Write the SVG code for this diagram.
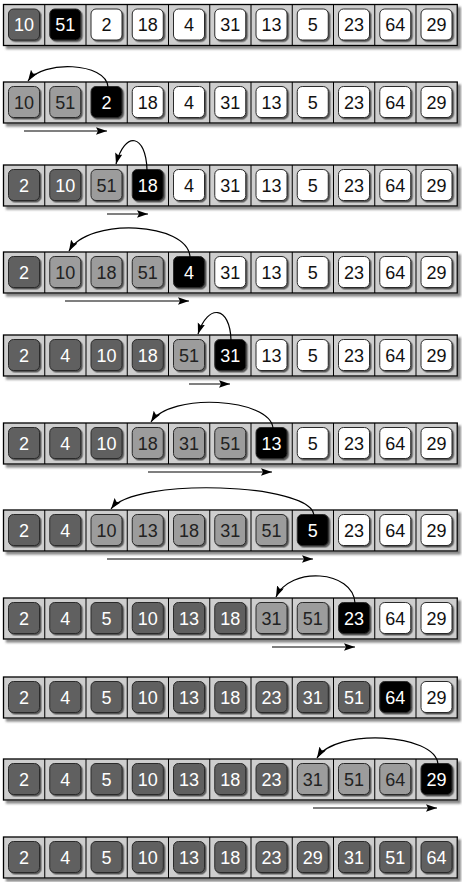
<svg xmlns="http://www.w3.org/2000/svg" width="462" height="882" viewBox="0 0 462 882">
<defs>
<filter id="fs" x="-5%" y="-20%" width="110%" height="150%"><feDropShadow dx="3" dy="3" stdDeviation="1" flood-color="#555" flood-opacity="0.7"/></filter>
<filter id="bs" x="-20%" y="-20%" width="150%" height="150%"><feDropShadow dx="1.5" dy="1.5" stdDeviation="0.7" flood-color="#222" flood-opacity="0.7"/></filter>
<marker id="ah" markerUnits="userSpaceOnUse" markerWidth="12" markerHeight="8" refX="11" refY="3.75" orient="auto"><path d="M0,0 L11,3.75 L0,7.5 L2,3.75 z" fill="#000"/></marker>
</defs>
<style>
.frame{fill:#cecece;stroke:#000;stroke-width:1.3;filter:url(#fs)}
.div{stroke:#000;stroke-width:1;fill:none}
.box{stroke:#2a2a2a;stroke-width:1;filter:url(#bs)}
.D .box{fill:#606060}.M .box{fill:#9c9c9c}.B .box{fill:#000}.W .box{fill:#fff}
text{font-family:"Liberation Sans",Arial,sans-serif;font-size:18px;text-anchor:middle}
.D text,.B text{fill:#fff}.M text{fill:#222}.W text{fill:#111}
.cn path{fill:none;stroke:#000;stroke-width:1.2;marker-end:url(#ah)}
</style>

<g id="row1" transform="translate(0,4.5)">
<rect class="frame" x="3.5" y="0" width="453.75" height="41"/>
<path class="div" d="M44.75,0V41M86,0V41M127.25,0V41M168.5,0V41M209.75,0V41M251,0V41M292.25,0V41M333.5,0V41M374.75,0V41M416,0V41"/>
<g id="r1c1" class="D" transform="translate(3.5,0)"><rect class="box" x="5" y="4.5" width="31" height="31" rx="5"/><text x="20.5" y="26.5">10</text></g>
<g id="r1c2" class="B" transform="translate(44.75,0)"><rect class="box" x="5" y="4.5" width="31" height="31" rx="5"/><text x="20.5" y="26.5">51</text></g>
<g id="r1c3" class="W" transform="translate(86,0)"><rect class="box" x="5" y="4.5" width="31" height="31" rx="5"/><text x="20.5" y="26.5">2</text></g>
<g id="r1c4" class="W" transform="translate(127.25,0)"><rect class="box" x="5" y="4.5" width="31" height="31" rx="5"/><text x="20.5" y="26.5">18</text></g>
<g id="r1c5" class="W" transform="translate(168.5,0)"><rect class="box" x="5" y="4.5" width="31" height="31" rx="5"/><text x="20.5" y="26.5">4</text></g>
<g id="r1c6" class="W" transform="translate(209.75,0)"><rect class="box" x="5" y="4.5" width="31" height="31" rx="5"/><text x="20.5" y="26.5">31</text></g>
<g id="r1c7" class="W" transform="translate(251,0)"><rect class="box" x="5" y="4.5" width="31" height="31" rx="5"/><text x="20.5" y="26.5">13</text></g>
<g id="r1c8" class="W" transform="translate(292.25,0)"><rect class="box" x="5" y="4.5" width="31" height="31" rx="5"/><text x="20.5" y="26.5">5</text></g>
<g id="r1c9" class="W" transform="translate(333.5,0)"><rect class="box" x="5" y="4.5" width="31" height="31" rx="5"/><text x="20.5" y="26.5">23</text></g>
<g id="r1c10" class="W" transform="translate(374.75,0)"><rect class="box" x="5" y="4.5" width="31" height="31" rx="5"/><text x="20.5" y="26.5">64</text></g>
<g id="r1c11" class="W" transform="translate(416,0)"><rect class="box" x="5" y="4.5" width="31" height="31" rx="5"/><text x="20.5" y="26.5">29</text></g>
</g>

<g id="row2" transform="translate(0,82)">
<rect class="frame" x="3.5" y="0" width="453.75" height="41"/>
<path class="div" d="M44.75,0V41M86,0V41M127.25,0V41M168.5,0V41M209.75,0V41M251,0V41M292.25,0V41M333.5,0V41M374.75,0V41M416,0V41"/>
<g id="r2c1" class="M" transform="translate(3.5,0)"><rect class="box" x="5" y="4.5" width="31" height="31" rx="5"/><text x="20.5" y="26.5">10</text></g>
<g id="r2c2" class="M" transform="translate(44.75,0)"><rect class="box" x="5" y="4.5" width="31" height="31" rx="5"/><text x="20.5" y="26.5">51</text></g>
<g id="r2c3" class="B" transform="translate(86,0)"><rect class="box" x="5" y="4.5" width="31" height="31" rx="5"/><text x="20.5" y="26.5">2</text></g>
<g id="r2c4" class="W" transform="translate(127.25,0)"><rect class="box" x="5" y="4.5" width="31" height="31" rx="5"/><text x="20.5" y="26.5">18</text></g>
<g id="r2c5" class="W" transform="translate(168.5,0)"><rect class="box" x="5" y="4.5" width="31" height="31" rx="5"/><text x="20.5" y="26.5">4</text></g>
<g id="r2c6" class="W" transform="translate(209.75,0)"><rect class="box" x="5" y="4.5" width="31" height="31" rx="5"/><text x="20.5" y="26.5">31</text></g>
<g id="r2c7" class="W" transform="translate(251,0)"><rect class="box" x="5" y="4.5" width="31" height="31" rx="5"/><text x="20.5" y="26.5">13</text></g>
<g id="r2c8" class="W" transform="translate(292.25,0)"><rect class="box" x="5" y="4.5" width="31" height="31" rx="5"/><text x="20.5" y="26.5">5</text></g>
<g id="r2c9" class="W" transform="translate(333.5,0)"><rect class="box" x="5" y="4.5" width="31" height="31" rx="5"/><text x="20.5" y="26.5">23</text></g>
<g id="r2c10" class="W" transform="translate(374.75,0)"><rect class="box" x="5" y="4.5" width="31" height="31" rx="5"/><text x="20.5" y="26.5">64</text></g>
<g id="r2c11" class="W" transform="translate(416,0)"><rect class="box" x="5" y="4.5" width="31" height="31" rx="5"/><text x="20.5" y="26.5">29</text></g>
</g>

<g id="row3" transform="translate(0,165)">
<rect class="frame" x="3.5" y="0" width="453.75" height="41"/>
<path class="div" d="M44.75,0V41M86,0V41M127.25,0V41M168.5,0V41M209.75,0V41M251,0V41M292.25,0V41M333.5,0V41M374.75,0V41M416,0V41"/>
<g id="r3c1" class="D" transform="translate(3.5,0)"><rect class="box" x="5" y="4.5" width="31" height="31" rx="5"/><text x="20.5" y="26.5">2</text></g>
<g id="r3c2" class="D" transform="translate(44.75,0)"><rect class="box" x="5" y="4.5" width="31" height="31" rx="5"/><text x="20.5" y="26.5">10</text></g>
<g id="r3c3" class="M" transform="translate(86,0)"><rect class="box" x="5" y="4.5" width="31" height="31" rx="5"/><text x="20.5" y="26.5">51</text></g>
<g id="r3c4" class="B" transform="translate(127.25,0)"><rect class="box" x="5" y="4.5" width="31" height="31" rx="5"/><text x="20.5" y="26.5">18</text></g>
<g id="r3c5" class="W" transform="translate(168.5,0)"><rect class="box" x="5" y="4.5" width="31" height="31" rx="5"/><text x="20.5" y="26.5">4</text></g>
<g id="r3c6" class="W" transform="translate(209.75,0)"><rect class="box" x="5" y="4.5" width="31" height="31" rx="5"/><text x="20.5" y="26.5">31</text></g>
<g id="r3c7" class="W" transform="translate(251,0)"><rect class="box" x="5" y="4.5" width="31" height="31" rx="5"/><text x="20.5" y="26.5">13</text></g>
<g id="r3c8" class="W" transform="translate(292.25,0)"><rect class="box" x="5" y="4.5" width="31" height="31" rx="5"/><text x="20.5" y="26.5">5</text></g>
<g id="r3c9" class="W" transform="translate(333.5,0)"><rect class="box" x="5" y="4.5" width="31" height="31" rx="5"/><text x="20.5" y="26.5">23</text></g>
<g id="r3c10" class="W" transform="translate(374.75,0)"><rect class="box" x="5" y="4.5" width="31" height="31" rx="5"/><text x="20.5" y="26.5">64</text></g>
<g id="r3c11" class="W" transform="translate(416,0)"><rect class="box" x="5" y="4.5" width="31" height="31" rx="5"/><text x="20.5" y="26.5">29</text></g>
</g>

<g id="row4" transform="translate(0,252)">
<rect class="frame" x="3.5" y="0" width="453.75" height="41"/>
<path class="div" d="M44.75,0V41M86,0V41M127.25,0V41M168.5,0V41M209.75,0V41M251,0V41M292.25,0V41M333.5,0V41M374.75,0V41M416,0V41"/>
<g id="r4c1" class="D" transform="translate(3.5,0)"><rect class="box" x="5" y="4.5" width="31" height="31" rx="5"/><text x="20.5" y="26.5">2</text></g>
<g id="r4c2" class="M" transform="translate(44.75,0)"><rect class="box" x="5" y="4.5" width="31" height="31" rx="5"/><text x="20.5" y="26.5">10</text></g>
<g id="r4c3" class="M" transform="translate(86,0)"><rect class="box" x="5" y="4.5" width="31" height="31" rx="5"/><text x="20.5" y="26.5">18</text></g>
<g id="r4c4" class="M" transform="translate(127.25,0)"><rect class="box" x="5" y="4.5" width="31" height="31" rx="5"/><text x="20.5" y="26.5">51</text></g>
<g id="r4c5" class="B" transform="translate(168.5,0)"><rect class="box" x="5" y="4.5" width="31" height="31" rx="5"/><text x="20.5" y="26.5">4</text></g>
<g id="r4c6" class="W" transform="translate(209.75,0)"><rect class="box" x="5" y="4.5" width="31" height="31" rx="5"/><text x="20.5" y="26.5">31</text></g>
<g id="r4c7" class="W" transform="translate(251,0)"><rect class="box" x="5" y="4.5" width="31" height="31" rx="5"/><text x="20.5" y="26.5">13</text></g>
<g id="r4c8" class="W" transform="translate(292.25,0)"><rect class="box" x="5" y="4.5" width="31" height="31" rx="5"/><text x="20.5" y="26.5">5</text></g>
<g id="r4c9" class="W" transform="translate(333.5,0)"><rect class="box" x="5" y="4.5" width="31" height="31" rx="5"/><text x="20.5" y="26.5">23</text></g>
<g id="r4c10" class="W" transform="translate(374.75,0)"><rect class="box" x="5" y="4.5" width="31" height="31" rx="5"/><text x="20.5" y="26.5">64</text></g>
<g id="r4c11" class="W" transform="translate(416,0)"><rect class="box" x="5" y="4.5" width="31" height="31" rx="5"/><text x="20.5" y="26.5">29</text></g>
</g>

<g id="row5" transform="translate(0,335)">
<rect class="frame" x="3.5" y="0" width="453.75" height="41"/>
<path class="div" d="M44.75,0V41M86,0V41M127.25,0V41M168.5,0V41M209.75,0V41M251,0V41M292.25,0V41M333.5,0V41M374.75,0V41M416,0V41"/>
<g id="r5c1" class="D" transform="translate(3.5,0)"><rect class="box" x="5" y="4.5" width="31" height="31" rx="5"/><text x="20.5" y="26.5">2</text></g>
<g id="r5c2" class="D" transform="translate(44.75,0)"><rect class="box" x="5" y="4.5" width="31" height="31" rx="5"/><text x="20.5" y="26.5">4</text></g>
<g id="r5c3" class="D" transform="translate(86,0)"><rect class="box" x="5" y="4.5" width="31" height="31" rx="5"/><text x="20.5" y="26.5">10</text></g>
<g id="r5c4" class="D" transform="translate(127.25,0)"><rect class="box" x="5" y="4.5" width="31" height="31" rx="5"/><text x="20.5" y="26.5">18</text></g>
<g id="r5c5" class="M" transform="translate(168.5,0)"><rect class="box" x="5" y="4.5" width="31" height="31" rx="5"/><text x="20.5" y="26.5">51</text></g>
<g id="r5c6" class="B" transform="translate(209.75,0)"><rect class="box" x="5" y="4.5" width="31" height="31" rx="5"/><text x="20.5" y="26.5">31</text></g>
<g id="r5c7" class="W" transform="translate(251,0)"><rect class="box" x="5" y="4.5" width="31" height="31" rx="5"/><text x="20.5" y="26.5">13</text></g>
<g id="r5c8" class="W" transform="translate(292.25,0)"><rect class="box" x="5" y="4.5" width="31" height="31" rx="5"/><text x="20.5" y="26.5">5</text></g>
<g id="r5c9" class="W" transform="translate(333.5,0)"><rect class="box" x="5" y="4.5" width="31" height="31" rx="5"/><text x="20.5" y="26.5">23</text></g>
<g id="r5c10" class="W" transform="translate(374.75,0)"><rect class="box" x="5" y="4.5" width="31" height="31" rx="5"/><text x="20.5" y="26.5">64</text></g>
<g id="r5c11" class="W" transform="translate(416,0)"><rect class="box" x="5" y="4.5" width="31" height="31" rx="5"/><text x="20.5" y="26.5">29</text></g>
</g>

<g id="row6" transform="translate(0,423)">
<rect class="frame" x="3.5" y="0" width="453.75" height="41"/>
<path class="div" d="M44.75,0V41M86,0V41M127.25,0V41M168.5,0V41M209.75,0V41M251,0V41M292.25,0V41M333.5,0V41M374.75,0V41M416,0V41"/>
<g id="r6c1" class="D" transform="translate(3.5,0)"><rect class="box" x="5" y="4.5" width="31" height="31" rx="5"/><text x="20.5" y="26.5">2</text></g>
<g id="r6c2" class="D" transform="translate(44.75,0)"><rect class="box" x="5" y="4.5" width="31" height="31" rx="5"/><text x="20.5" y="26.5">4</text></g>
<g id="r6c3" class="D" transform="translate(86,0)"><rect class="box" x="5" y="4.5" width="31" height="31" rx="5"/><text x="20.5" y="26.5">10</text></g>
<g id="r6c4" class="M" transform="translate(127.25,0)"><rect class="box" x="5" y="4.5" width="31" height="31" rx="5"/><text x="20.5" y="26.5">18</text></g>
<g id="r6c5" class="M" transform="translate(168.5,0)"><rect class="box" x="5" y="4.5" width="31" height="31" rx="5"/><text x="20.5" y="26.5">31</text></g>
<g id="r6c6" class="M" transform="translate(209.75,0)"><rect class="box" x="5" y="4.5" width="31" height="31" rx="5"/><text x="20.5" y="26.5">51</text></g>
<g id="r6c7" class="B" transform="translate(251,0)"><rect class="box" x="5" y="4.5" width="31" height="31" rx="5"/><text x="20.5" y="26.5">13</text></g>
<g id="r6c8" class="W" transform="translate(292.25,0)"><rect class="box" x="5" y="4.5" width="31" height="31" rx="5"/><text x="20.5" y="26.5">5</text></g>
<g id="r6c9" class="W" transform="translate(333.5,0)"><rect class="box" x="5" y="4.5" width="31" height="31" rx="5"/><text x="20.5" y="26.5">23</text></g>
<g id="r6c10" class="W" transform="translate(374.75,0)"><rect class="box" x="5" y="4.5" width="31" height="31" rx="5"/><text x="20.5" y="26.5">64</text></g>
<g id="r6c11" class="W" transform="translate(416,0)"><rect class="box" x="5" y="4.5" width="31" height="31" rx="5"/><text x="20.5" y="26.5">29</text></g>
</g>

<g id="row7" transform="translate(0,510)">
<rect class="frame" x="3.5" y="0" width="453.75" height="41"/>
<path class="div" d="M44.75,0V41M86,0V41M127.25,0V41M168.5,0V41M209.75,0V41M251,0V41M292.25,0V41M333.5,0V41M374.75,0V41M416,0V41"/>
<g id="r7c1" class="D" transform="translate(3.5,0)"><rect class="box" x="5" y="4.5" width="31" height="31" rx="5"/><text x="20.5" y="26.5">2</text></g>
<g id="r7c2" class="D" transform="translate(44.75,0)"><rect class="box" x="5" y="4.5" width="31" height="31" rx="5"/><text x="20.5" y="26.5">4</text></g>
<g id="r7c3" class="M" transform="translate(86,0)"><rect class="box" x="5" y="4.5" width="31" height="31" rx="5"/><text x="20.5" y="26.5">10</text></g>
<g id="r7c4" class="M" transform="translate(127.25,0)"><rect class="box" x="5" y="4.5" width="31" height="31" rx="5"/><text x="20.5" y="26.5">13</text></g>
<g id="r7c5" class="M" transform="translate(168.5,0)"><rect class="box" x="5" y="4.5" width="31" height="31" rx="5"/><text x="20.5" y="26.5">18</text></g>
<g id="r7c6" class="M" transform="translate(209.75,0)"><rect class="box" x="5" y="4.5" width="31" height="31" rx="5"/><text x="20.5" y="26.5">31</text></g>
<g id="r7c7" class="M" transform="translate(251,0)"><rect class="box" x="5" y="4.5" width="31" height="31" rx="5"/><text x="20.5" y="26.5">51</text></g>
<g id="r7c8" class="B" transform="translate(292.25,0)"><rect class="box" x="5" y="4.5" width="31" height="31" rx="5"/><text x="20.5" y="26.5">5</text></g>
<g id="r7c9" class="W" transform="translate(333.5,0)"><rect class="box" x="5" y="4.5" width="31" height="31" rx="5"/><text x="20.5" y="26.5">23</text></g>
<g id="r7c10" class="W" transform="translate(374.75,0)"><rect class="box" x="5" y="4.5" width="31" height="31" rx="5"/><text x="20.5" y="26.5">64</text></g>
<g id="r7c11" class="W" transform="translate(416,0)"><rect class="box" x="5" y="4.5" width="31" height="31" rx="5"/><text x="20.5" y="26.5">29</text></g>
</g>

<g id="row8" transform="translate(0,598)">
<rect class="frame" x="3.5" y="0" width="453.75" height="41"/>
<path class="div" d="M44.75,0V41M86,0V41M127.25,0V41M168.5,0V41M209.75,0V41M251,0V41M292.25,0V41M333.5,0V41M374.75,0V41M416,0V41"/>
<g id="r8c1" class="D" transform="translate(3.5,0)"><rect class="box" x="5" y="4.5" width="31" height="31" rx="5"/><text x="20.5" y="26.5">2</text></g>
<g id="r8c2" class="D" transform="translate(44.75,0)"><rect class="box" x="5" y="4.5" width="31" height="31" rx="5"/><text x="20.5" y="26.5">4</text></g>
<g id="r8c3" class="D" transform="translate(86,0)"><rect class="box" x="5" y="4.5" width="31" height="31" rx="5"/><text x="20.5" y="26.5">5</text></g>
<g id="r8c4" class="D" transform="translate(127.25,0)"><rect class="box" x="5" y="4.5" width="31" height="31" rx="5"/><text x="20.5" y="26.5">10</text></g>
<g id="r8c5" class="D" transform="translate(168.5,0)"><rect class="box" x="5" y="4.5" width="31" height="31" rx="5"/><text x="20.5" y="26.5">13</text></g>
<g id="r8c6" class="D" transform="translate(209.75,0)"><rect class="box" x="5" y="4.5" width="31" height="31" rx="5"/><text x="20.5" y="26.5">18</text></g>
<g id="r8c7" class="M" transform="translate(251,0)"><rect class="box" x="5" y="4.5" width="31" height="31" rx="5"/><text x="20.5" y="26.5">31</text></g>
<g id="r8c8" class="M" transform="translate(292.25,0)"><rect class="box" x="5" y="4.5" width="31" height="31" rx="5"/><text x="20.5" y="26.5">51</text></g>
<g id="r8c9" class="B" transform="translate(333.5,0)"><rect class="box" x="5" y="4.5" width="31" height="31" rx="5"/><text x="20.5" y="26.5">23</text></g>
<g id="r8c10" class="W" transform="translate(374.75,0)"><rect class="box" x="5" y="4.5" width="31" height="31" rx="5"/><text x="20.5" y="26.5">64</text></g>
<g id="r8c11" class="W" transform="translate(416,0)"><rect class="box" x="5" y="4.5" width="31" height="31" rx="5"/><text x="20.5" y="26.5">29</text></g>
</g>

<g id="row9" transform="translate(0,677)">
<rect class="frame" x="3.5" y="0" width="453.75" height="41"/>
<path class="div" d="M44.75,0V41M86,0V41M127.25,0V41M168.5,0V41M209.75,0V41M251,0V41M292.25,0V41M333.5,0V41M374.75,0V41M416,0V41"/>
<g id="r9c1" class="D" transform="translate(3.5,0)"><rect class="box" x="5" y="4.5" width="31" height="31" rx="5"/><text x="20.5" y="26.5">2</text></g>
<g id="r9c2" class="D" transform="translate(44.75,0)"><rect class="box" x="5" y="4.5" width="31" height="31" rx="5"/><text x="20.5" y="26.5">4</text></g>
<g id="r9c3" class="D" transform="translate(86,0)"><rect class="box" x="5" y="4.5" width="31" height="31" rx="5"/><text x="20.5" y="26.5">5</text></g>
<g id="r9c4" class="D" transform="translate(127.25,0)"><rect class="box" x="5" y="4.5" width="31" height="31" rx="5"/><text x="20.5" y="26.5">10</text></g>
<g id="r9c5" class="D" transform="translate(168.5,0)"><rect class="box" x="5" y="4.5" width="31" height="31" rx="5"/><text x="20.5" y="26.5">13</text></g>
<g id="r9c6" class="D" transform="translate(209.75,0)"><rect class="box" x="5" y="4.5" width="31" height="31" rx="5"/><text x="20.5" y="26.5">18</text></g>
<g id="r9c7" class="D" transform="translate(251,0)"><rect class="box" x="5" y="4.5" width="31" height="31" rx="5"/><text x="20.5" y="26.5">23</text></g>
<g id="r9c8" class="D" transform="translate(292.25,0)"><rect class="box" x="5" y="4.5" width="31" height="31" rx="5"/><text x="20.5" y="26.5">31</text></g>
<g id="r9c9" class="D" transform="translate(333.5,0)"><rect class="box" x="5" y="4.5" width="31" height="31" rx="5"/><text x="20.5" y="26.5">51</text></g>
<g id="r9c10" class="B" transform="translate(374.75,0)"><rect class="box" x="5" y="4.5" width="31" height="31" rx="5"/><text x="20.5" y="26.5">64</text></g>
<g id="r9c11" class="W" transform="translate(416,0)"><rect class="box" x="5" y="4.5" width="31" height="31" rx="5"/><text x="20.5" y="26.5">29</text></g>
</g>

<g id="row10" transform="translate(0,759)">
<rect class="frame" x="3.5" y="0" width="453.75" height="41"/>
<path class="div" d="M44.75,0V41M86,0V41M127.25,0V41M168.5,0V41M209.75,0V41M251,0V41M292.25,0V41M333.5,0V41M374.75,0V41M416,0V41"/>
<g id="r10c1" class="D" transform="translate(3.5,0)"><rect class="box" x="5" y="4.5" width="31" height="31" rx="5"/><text x="20.5" y="26.5">2</text></g>
<g id="r10c2" class="D" transform="translate(44.75,0)"><rect class="box" x="5" y="4.5" width="31" height="31" rx="5"/><text x="20.5" y="26.5">4</text></g>
<g id="r10c3" class="D" transform="translate(86,0)"><rect class="box" x="5" y="4.5" width="31" height="31" rx="5"/><text x="20.5" y="26.5">5</text></g>
<g id="r10c4" class="D" transform="translate(127.25,0)"><rect class="box" x="5" y="4.5" width="31" height="31" rx="5"/><text x="20.5" y="26.5">10</text></g>
<g id="r10c5" class="D" transform="translate(168.5,0)"><rect class="box" x="5" y="4.5" width="31" height="31" rx="5"/><text x="20.5" y="26.5">13</text></g>
<g id="r10c6" class="D" transform="translate(209.75,0)"><rect class="box" x="5" y="4.5" width="31" height="31" rx="5"/><text x="20.5" y="26.5">18</text></g>
<g id="r10c7" class="D" transform="translate(251,0)"><rect class="box" x="5" y="4.5" width="31" height="31" rx="5"/><text x="20.5" y="26.5">23</text></g>
<g id="r10c8" class="M" transform="translate(292.25,0)"><rect class="box" x="5" y="4.5" width="31" height="31" rx="5"/><text x="20.5" y="26.5">31</text></g>
<g id="r10c9" class="M" transform="translate(333.5,0)"><rect class="box" x="5" y="4.5" width="31" height="31" rx="5"/><text x="20.5" y="26.5">51</text></g>
<g id="r10c10" class="M" transform="translate(374.75,0)"><rect class="box" x="5" y="4.5" width="31" height="31" rx="5"/><text x="20.5" y="26.5">64</text></g>
<g id="r10c11" class="B" transform="translate(416,0)"><rect class="box" x="5" y="4.5" width="31" height="31" rx="5"/><text x="20.5" y="26.5">29</text></g>
</g>

<g id="row11" transform="translate(0,837)">
<rect class="frame" x="3.5" y="0" width="453.75" height="41"/>
<path class="div" d="M44.75,0V41M86,0V41M127.25,0V41M168.5,0V41M209.75,0V41M251,0V41M292.25,0V41M333.5,0V41M374.75,0V41M416,0V41"/>
<g id="r11c1" class="D" transform="translate(3.5,0)"><rect class="box" x="5" y="4.5" width="31" height="31" rx="5"/><text x="20.5" y="26.5">2</text></g>
<g id="r11c2" class="D" transform="translate(44.75,0)"><rect class="box" x="5" y="4.5" width="31" height="31" rx="5"/><text x="20.5" y="26.5">4</text></g>
<g id="r11c3" class="D" transform="translate(86,0)"><rect class="box" x="5" y="4.5" width="31" height="31" rx="5"/><text x="20.5" y="26.5">5</text></g>
<g id="r11c4" class="D" transform="translate(127.25,0)"><rect class="box" x="5" y="4.5" width="31" height="31" rx="5"/><text x="20.5" y="26.5">10</text></g>
<g id="r11c5" class="D" transform="translate(168.5,0)"><rect class="box" x="5" y="4.5" width="31" height="31" rx="5"/><text x="20.5" y="26.5">13</text></g>
<g id="r11c6" class="D" transform="translate(209.75,0)"><rect class="box" x="5" y="4.5" width="31" height="31" rx="5"/><text x="20.5" y="26.5">18</text></g>
<g id="r11c7" class="D" transform="translate(251,0)"><rect class="box" x="5" y="4.5" width="31" height="31" rx="5"/><text x="20.5" y="26.5">23</text></g>
<g id="r11c8" class="D" transform="translate(292.25,0)"><rect class="box" x="5" y="4.5" width="31" height="31" rx="5"/><text x="20.5" y="26.5">29</text></g>
<g id="r11c9" class="D" transform="translate(333.5,0)"><rect class="box" x="5" y="4.5" width="31" height="31" rx="5"/><text x="20.5" y="26.5">31</text></g>
<g id="r11c10" class="D" transform="translate(374.75,0)"><rect class="box" x="5" y="4.5" width="31" height="31" rx="5"/><text x="20.5" y="26.5">51</text></g>
<g id="r11c11" class="D" transform="translate(416,0)"><rect class="box" x="5" y="4.5" width="31" height="31" rx="5"/><text x="20.5" y="26.5">64</text></g>
</g>

<g id="connectors" class="cn">
<path d="M108,87 C106,62 42,60 28,81"/>
<path d="M24,131 H107"/>
<path d="M147,170 C146,134 125,130 116,164"/>
<path d="M107,214 H148"/>
<path d="M190,257 C188,222 88,217 69,251"/>
<path d="M65,301 H189"/>
<path d="M231,340 C230,306 208,303 198,334"/>
<path d="M189,384 H230"/>
<path d="M273,428 C270,398 170,392 151,422"/>
<path d="M148,472 H272"/>
<path d="M314,515 C311,483 135,477 111,509"/>
<path d="M107,559 H313"/>
<path d="M355,603 C353,570 290,566 276,597"/>
<path d="M272,647 H355"/>
<path d="M438,764 C435,733 335,728 317,758"/>
<path d="M313,808 H437"/>
</g>
</svg>
